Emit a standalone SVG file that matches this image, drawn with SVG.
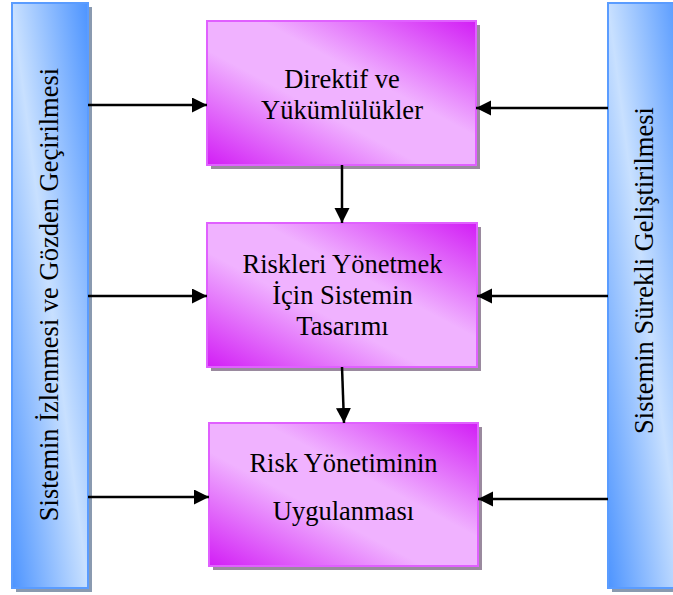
<svg xmlns="http://www.w3.org/2000/svg" width="673" height="595" viewBox="0 0 673 595">
<style>
.shadow-box{fill:#9a8a9e;}
.shadow-bar{fill:#8a9ab0;}
.box{fill:url(#pinkGrad);stroke:#e060ff;stroke-width:2;}
.bar{fill:url(#blueGrad);stroke:#5a9cff;stroke-width:2;}
.label{font-family:"Liberation Serif","Times New Roman",serif;font-size:26.5px;fill:#000;text-anchor:middle;}
.conn{stroke:#000;stroke-width:2.5;fill:none;marker-end:url(#arrow);}
</style>
<defs>
<linearGradient id="pinkGrad" x1="1" y1="0" x2="0" y2="1">
<stop offset="0" stop-color="#d21ef5"/>
<stop offset="0.4" stop-color="#f0b2ff"/>
<stop offset="0.6" stop-color="#f0b2ff"/>
<stop offset="1" stop-color="#d21ef5"/>
</linearGradient>
<linearGradient id="blueGrad" x1="1" y1="0" x2="0" y2="1">
<stop offset="0" stop-color="#4d94ff"/>
<stop offset="0.5" stop-color="#c8e0ff"/>
<stop offset="1" stop-color="#4d94ff"/>
</linearGradient>
<marker id="arrow" markerUnits="userSpaceOnUse" markerWidth="16" markerHeight="16" refX="15" refY="7.5" orient="auto">
<path d="M0,0 L15,7.5 L0,15 Z" fill="#000"/>
</marker>
</defs>

<g id="bar-left">
<rect class="shadow-bar" x="16" y="7" width="76" height="585"/>
<rect class="bar" x="12" y="3" width="76" height="585"/>
<text class="label" transform="translate(58,294.5) rotate(-90)">Sistemin İzlenmesi ve Gözden Geçirilmesi</text>
</g>

<g id="bar-right">
<rect class="shadow-bar" x="612" y="7" width="76" height="585"/>
<rect class="bar" x="608" y="3" width="76" height="585"/>
<text class="label" transform="translate(653,270.5) rotate(-90)">Sistemin Sürekli Geliştirilmesi</text>
</g>

<g id="box-directives">
<rect class="shadow-box" x="211" y="25" width="269" height="144"/>
<rect class="box" x="207" y="21" width="269" height="144"/>
<text class="label" x="342" y="88">Direktif ve</text>
<text class="label" x="342" y="119">Yükümlülükler</text>
</g>

<g id="box-design">
<rect class="shadow-box" x="211" y="227" width="270" height="144"/>
<rect class="box" x="207" y="223" width="270" height="144"/>
<text class="label" x="342.5" y="273">Riskleri Yönetmek</text>
<text class="label" x="342.5" y="304">İçin Sistemin</text>
<text class="label" x="342.5" y="335">Tasarımı</text>
</g>

<g id="box-implementation">
<rect class="shadow-box" x="213" y="427" width="269" height="143"/>
<rect class="box" x="209" y="423" width="269" height="143"/>
<text class="label" x="343.5" y="472">Risk Yönetiminin</text>
<text class="label" x="343.5" y="520">Uygulanması</text>
</g>

<g id="connectors">
<line class="conn" x1="88" y1="105" x2="207" y2="105"/>
<line class="conn" x1="88" y1="296" x2="207" y2="296"/>
<line class="conn" x1="88" y1="497" x2="209" y2="497"/>
<line class="conn" x1="608" y1="108" x2="476" y2="108"/>
<line class="conn" x1="608" y1="296" x2="477" y2="296"/>
<line class="conn" x1="608" y1="499" x2="478" y2="499"/>
<line class="conn" x1="342" y1="165" x2="342" y2="223"/>
<line class="conn" x1="342" y1="367" x2="344" y2="423"/>
</g>
</svg>
